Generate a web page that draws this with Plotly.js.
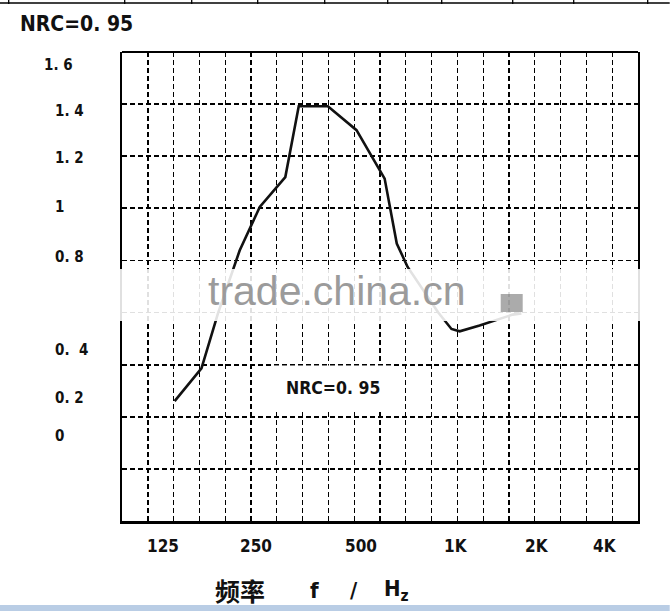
<!DOCTYPE html>
<html>
<head>
<meta charset="utf-8">
<script src="https://cdn.plot.ly/plotly-3.0.1.min.js"></script>
<style>
  html, body { margin: 0; padding: 0; background: #ffffff; }
  #chart { width: 670px; height: 611px; }
</style>
</head>
<body>
<div id="chart"></div>
<script>
// ---- data ----
// horizontal position of each curve vertex on the hand-drawn frequency grid (grid columns 0..20)
const curvePos = [2.04, 3.08, 3.72, 4.56, 5.34, 6.33, 6.85, 7.98, 9.09, 9.53, 10.18, 10.65, 11.07, 12.25, 12.77, 13.09, 13.86, 15.14, 15.48];
// sound absorption coefficient
const curveAlpha = [0.26, 0.386, 0.597, 0.838, 1.005, 1.12, 1.392, 1.392, 1.30, 1.223, 1.114, 0.865, 0.775, 0.601, 0.537, 0.528, 0.55, 0.592, 0.597];

const xTickLabels = ['125', '250', '500', '1K', '2K', '4K'];
const xTickLabelAt = [1.58, 5.18, 9.25, 12.93, 16.07, 18.74];

const yTickLabels = ['1. 6', '1. 4', '1. 2', '1', '0. 8', '0.  4', '0. 2', '0'];
const yTickLabelAt = [1.552, 1.373, 1.192, 1.004, 0.815, 0.458, 0.273, 0.125];

const titleText = 'NRC=0. 95';
const noteText = 'NRC=0. 95';
const xTitleParts = ['频率', 'f', '/', 'H<sub>z</sub>'];
const watermarkText = 'trade.china.cn';

// ---- layout helpers ----
const W = 670, H = 611;
const L = 122.3, R = 638.3, T = 52, B = 521;
const px = x => (x - L) / (R - L);
const py = y => (B - y) / (B - T);

const FONT = '"DejaVu Sans Condensed", "Liberation Sans Narrow", "Arial Narrow", sans-serif';
const CJK = '"Noto Sans CJK SC", "Noto Sans", sans-serif';

const trace = {
  x: curvePos,
  y: curveAlpha,
  type: 'scatter',
  mode: 'lines',
  line: { color: '#111111', width: 2.6 },
  hoverinfo: 'skip',
  showlegend: false
};

const annotations = [];
yTickLabels.forEach((t, i) => {
  annotations.push({
    text: '<b>' + t + '</b>', xref: 'paper', yref: 'y',
    x: i === 0 ? px(42) : px(53), y: yTickLabelAt[i],
    xanchor: 'left', yanchor: 'middle', showarrow: false,
    font: { family: FONT, size: 15, color: '#111' }
  });
});
xTickLabels.forEach((t, i) => {
  annotations.push({
    text: '<b>' + t + '</b>', xref: 'x', yref: 'paper',
    x: xTickLabelAt[i], y: py(546),
    xanchor: 'center', yanchor: 'middle', showarrow: false,
    font: { family: FONT, size: 17, color: '#111' }
  });
});
// inner note
annotations.push({
  text: '<b>' + noteText + '</b>', xref: 'paper', yref: 'paper',
  x: px(333), y: py(388), xanchor: 'center', yanchor: 'middle', showarrow: false,
  bgcolor: '#ffffff', borderpad: 12,
  font: { family: FONT, size: 17.5, color: '#111' }
});
// x axis title pieces
const xTitleAt = [240, 315, 354, 397];
xTitleParts.forEach((t, i) => {
  annotations.push({
    text: '<b>' + t + '</b>', xref: 'paper', yref: 'paper',
    x: px(xTitleAt[i]), y: py(590), xanchor: 'center', yanchor: 'middle', showarrow: false,
    font: { family: i === 0 ? CJK : FONT, size: i === 0 ? 25 : 22, color: '#111' }
  });
});
// watermark
annotations.push({
  text: watermarkText, xref: 'paper', yref: 'paper',
  x: px(337), y: py(291), xanchor: 'center', yanchor: 'middle', showarrow: false,
  font: { family: '"Liberation Sans", Arial, sans-serif', size: 41, color: '#9b9b9b' }
});

const shapes = [
  // top border
  { type: 'line', xref: 'paper', yref: 'paper', x0: 0, x1: 1, y0: 1, y1: 1, line: { color: '#000', width: 2 } },
  // white watermark band
  { type: 'rect', xref: 'paper', yref: 'paper', x0: px(104), x1: px(648), y0: py(321), y1: py(269),
    fillcolor: '#ffffff', opacity: 0.88, line: { width: 0 }, layer: 'above' },
  // dark smudge in the band
  { type: 'rect', xref: 'paper', yref: 'paper', x0: px(501), x1: px(523), y0: py(312), y1: py(294),
    fillcolor: '#444444', opacity: 0.45, line: { width: 0 }, layer: 'above' },
  // page decorations: table rule at top, blue band at bottom
  { type: 'line', xref: 'paper', yref: 'paper', x0: px(0), x1: px(670), y0: py(3), y1: py(3), line: { color: '#000', width: 1.5 } },
  { type: 'rect', xref: 'paper', yref: 'paper', x0: px(0), x1: px(670), y0: py(611), y1: py(605),
    fillcolor: '#b9cde5', line: { width: 0 } }
];
[9, 125, 192, 258, 325, 388, 442, 513, 574, 648].forEach(xx => {
  shapes.push({ type: 'line', xref: 'paper', yref: 'paper', x0: px(xx), x1: px(xx), y0: py(0), y1: py(4),
    line: { color: '#000', width: 1.3 } });
});

const layout = {
  width: W, height: H,
  margin: { l: L, r: W - R, t: T, b: H - B, pad: 0 },
  paper_bgcolor: '#ffffff', plot_bgcolor: '#ffffff',
  showlegend: false,
  title: {
    text: '<b>' + titleText + '</b>', x: 20 / W, xanchor: 'left', xref: 'container',
    y: 1 - 24 / H, yanchor: 'middle', yref: 'container',
    font: { family: FONT, size: 21, color: '#111' }
  },
  xaxis: {
    range: [0, 20], dtick: 1, tick0: 0,
    showgrid: true, gridcolor: '#000', gridwidth: 1.4, griddash: '5px,3px',
    showticklabels: false, ticks: '', zeroline: false,
    showline: true, linecolor: '#000', linewidth: 3, mirror: false, fixedrange: true
  },
  yaxis: {
    range: [-0.2, 1.6], dtick: 0.2, tick0: 0,
    showgrid: true, gridcolor: '#000', gridwidth: 1.8, griddash: '5px,3px',
    showticklabels: false, ticks: '', zeroline: false,
    showline: true, linecolor: '#000', linewidth: 2, mirror: true, fixedrange: true
  },
  annotations: annotations,
  shapes: shapes
};

Plotly.newPlot('chart', [trace], layout, { displayModeBar: false, staticPlot: true });
</script>
</body>
</html>
